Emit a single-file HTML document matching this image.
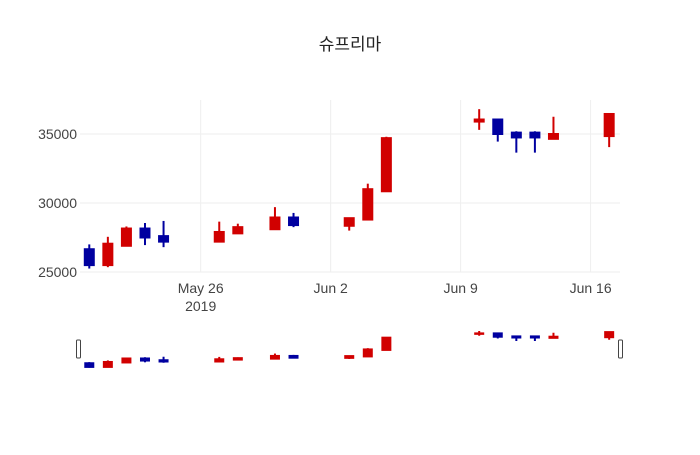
<!DOCTYPE html>
<html><head><meta charset="utf-8"><style>
html,body{margin:0;padding:0;background:#fff;}
svg text{font-family:"Liberation Sans","Noto Sans CJK KR",sans-serif;fill:#444;}
</style></head><body>
<svg id="chart" width="700" height="450">
<text x="350" y="50" text-anchor="middle" style="font-size:17px;fill:#222">슈프리마</text>
<g id="grid"></g><g id="main"></g><g id="slider"></g>
</svg>
<script>
const dates=["2019-05-20","2019-05-21","2019-05-22","2019-05-23","2019-05-24","2019-05-27","2019-05-28","2019-05-30","2019-05-31","2019-06-03","2019-06-04","2019-06-05","2019-06-10","2019-06-11","2019-06-12","2019-06-13","2019-06-14","2019-06-17"];
const opens=[26650,25500,26900,28150,27600,27200,27800,28100,28950,28350,28800,30850,35900,36050,35100,35100,34650,34850];
const highs=[27000,27550,28300,28550,28700,28650,28500,29700,29280,28950,31400,34800,36800,36050,35200,35200,36250,36450];
const lows=[25250,25350,26900,26950,26800,27200,27800,28100,28250,28000,28800,30850,35300,34450,33650,33650,34650,34050];
const closes=[25500,27050,28150,27500,27200,27900,28250,28950,28400,28900,31000,34700,36050,35000,34750,34750,35000,36450];
const yTicks=[25000,30000,35000];
const xTicks=["2019-05-26","2019-06-02","2019-06-09","2019-06-16"];
const xTickLabels=["May 26","Jun 2","Jun 9","Jun 16"];
const NS="http://www.w3.org/2000/svg";
const DAY=86400000;
const x0=Date.parse("2019-05-19T12:00:00Z"),x1=Date.parse("2019-06-17T14:00:00Z");
const L=80,R=620;
function xs(d){return L+(Date.parse(d+"T00:00:00Z")-x0)/(x1-x0)*(R-L);}
function ys(v){return 272-(v-25000)/5000*69;}
const sMin=Math.min(...lows),sMax=Math.max(...highs);
function ss(v){return 367.7-(v-sMin)/(sMax-sMin)*36.7;}
function mk(tag,attrs,parent){const e=document.createElementNS(NS,tag);for(const k in attrs)e.setAttribute(k,attrs[k]);parent.appendChild(e);return e;}
const grid=document.getElementById('grid'),main=document.getElementById('main'),sl=document.getElementById('slider');
yTicks.forEach(v=>{
 const l=mk('line',{x1:L,x2:R,y1:ys(v),y2:ys(v),stroke:'#eee'},grid);
 
 
 const t=mk('text',{x:L-3,y:ys(v)+5,'text-anchor':'end','font-size':'14'},grid);
 t.textContent=v;
 
 
});
xTicks.forEach((d,i)=>{
 const x=xs(d);
 const l=mk('line',{x1:x,x2:x,y1:100,y2:272,stroke:'#eee'},grid);
 
 
 const t=mk('text',{x:x,y:293,'text-anchor':'middle','font-size':'14'},grid);
 t.textContent=xTickLabels[i];
 
 
 if(i===0){const y=mk('text',{x:x,y:311,'text-anchor':'middle','font-size':'14'},grid);y.textContent="2019";
 
 }
});
const bw=11;
dates.forEach((d,i)=>{
 const up=closes[i]>=opens[i];const c=up?'#d10000':'#0000a0';
 const x=xs(d);
 [[main,ys],[sl,ss]].forEach(([g,f],k)=>{
  const grp=mk('g',{},g);
  
  
  mk('line',{x1:x,x2:x,y1:f(highs[i]),y2:f(lows[i]),stroke:c,'stroke-width':2},grp);
  const top=f(Math.max(opens[i],closes[i])),bot=f(Math.min(opens[i],closes[i]));
  const w=k===0?bw:10;
  mk('rect',{x:x-w/2,y:top-1,width:w,height:Math.max(bot-top,0)+2,fill:c},grp);
 });
});
[[78.5],[620.5]].forEach(([x],i)=>{
 const h=mk('rect',{x:x-2,y:340,width:4,height:18,rx:1,fill:'#fff',stroke:'#444','stroke-width':1},sl);
 
 
});
</script>
</body></html>
